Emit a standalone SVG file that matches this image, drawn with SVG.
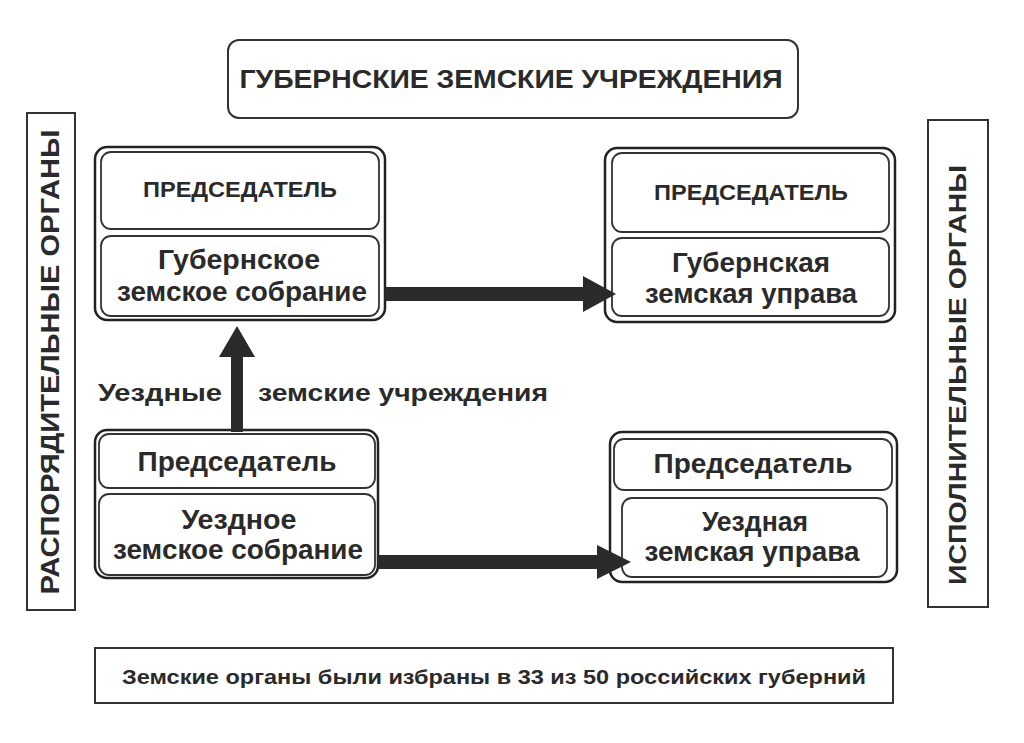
<svg xmlns="http://www.w3.org/2000/svg" width="1024" height="743" viewBox="0 0 1024 743">
<style>
text{font-family:"Liberation Sans",Arial,sans-serif;font-weight:bold;fill:#2a2a2a;text-anchor:middle}
.outer{fill:#fff;stroke:#222;stroke-width:2.5}
.inner{fill:#fff;stroke:#333;stroke-width:1.8}
.box{fill:#fff;stroke:#333;stroke-width:2}
.arrow{fill:#2a2a2a}
.cap{font-size:22px}
.main{font-size:27px}
.lbl{font-size:24px}
</style>
<rect width="1024" height="743" fill="#fff"/>
<g id="title">
<rect class="box" x="228" y="40" width="570" height="78" rx="11"/>
<text x="511" y="88" font-size="26" textLength="543" lengthAdjust="spacingAndGlyphs">ГУБЕРНСКИЕ ЗЕМСКИЕ УЧРЕЖДЕНИЯ</text>
</g>
<g id="left-label">
<rect class="box" x="27" y="113" width="48" height="497"/>
<text transform="translate(59,362) rotate(-90)" font-size="25" textLength="465" lengthAdjust="spacingAndGlyphs">РАСПОРЯДИТЕЛЬНЫЕ ОРГАНЫ</text>
</g>
<g id="right-label">
<rect class="box" x="928" y="120" width="60" height="487"/>
<text transform="translate(966,375) rotate(-90)" font-size="24" textLength="420" lengthAdjust="spacingAndGlyphs">ИСПОЛНИТЕЛЬНЫЕ ОРГАНЫ</text>
</g>
<g id="gub-sobranie">
<rect class="outer" x="95" y="147" width="290" height="173" rx="12"/>
<rect class="inner" x="101" y="152" width="278" height="77" rx="10"/>
<rect class="inner" x="101" y="236" width="278" height="80" rx="10"/>
<text class="cap" x="240" y="197" textLength="194" lengthAdjust="spacingAndGlyphs">ПРЕДСЕДАТЕЛЬ</text>
<text class="main" x="239" y="269" textLength="162" lengthAdjust="spacingAndGlyphs">Губернское</text>
<text class="main" x="242" y="301" textLength="250" lengthAdjust="spacingAndGlyphs">земское собрание</text>
</g>
<g id="gub-uprava">
<rect class="outer" x="605" y="148" width="290" height="174" rx="12"/>
<rect class="inner" x="612" y="153" width="277" height="79" rx="10"/>
<rect class="inner" x="612" y="238" width="277" height="78" rx="10"/>
<text class="cap" x="751" y="200" textLength="194" lengthAdjust="spacingAndGlyphs">ПРЕДСЕДАТЕЛЬ</text>
<text class="main" x="751" y="272" textLength="158" lengthAdjust="spacingAndGlyphs">Губернская</text>
<text class="main" x="751" y="303" textLength="212" lengthAdjust="spacingAndGlyphs">земская управа</text>
</g>
<g id="uezd-sobranie">
<rect class="outer" x="95" y="430" width="283" height="148" rx="12"/>
<rect class="inner" x="99" y="434" width="276" height="54" rx="10"/>
<rect class="inner" x="99" y="494" width="276" height="81" rx="10"/>
<text class="main" x="237" y="471" textLength="199" lengthAdjust="spacingAndGlyphs">Председатель</text>
<text class="main" x="239" y="529" textLength="115" lengthAdjust="spacingAndGlyphs">Уездное</text>
<text class="main" x="238" y="559" textLength="250" lengthAdjust="spacingAndGlyphs">земское собрание</text>
</g>
<g id="uezd-uprava">
<rect class="outer" x="610" y="432" width="287" height="150" rx="12"/>
<rect class="inner" x="614" y="439" width="278" height="51" rx="10"/>
<rect class="inner" x="622" y="498" width="265" height="79" rx="10"/>
<text class="main" x="753" y="473" textLength="199" lengthAdjust="spacingAndGlyphs">Председатель</text>
<text class="main" x="755" y="531" textLength="106" lengthAdjust="spacingAndGlyphs">Уездная</text>
<text class="main" x="752" y="561" textLength="215" lengthAdjust="spacingAndGlyphs">земская управа</text>
</g>
<g id="connectors">
<polygon class="arrow" points="231,432 243,432 243,357 255,357 237,326 219,357 231,357"/>
<polygon class="arrow" points="385,287 583,287 583,276 616,294 583,312 583,301 385,301"/>
<polygon class="arrow" points="378,555 597,555 597,545 631,562 597,579 597,569 378,569"/>
</g>
<g id="uezd-label">
<text class="lbl" x="160" y="401" textLength="124" lengthAdjust="spacingAndGlyphs">Уездные</text>
<text class="lbl" x="403" y="401" textLength="290" lengthAdjust="spacingAndGlyphs">земские учреждения</text>
</g>
<g id="footer">
<rect class="box" x="95" y="648" width="798" height="55"/>
<text x="494" y="684" font-size="21" textLength="744" lengthAdjust="spacingAndGlyphs">Земские органы были избраны в 33 из 50 российских губерний</text>
</g>
</svg>
